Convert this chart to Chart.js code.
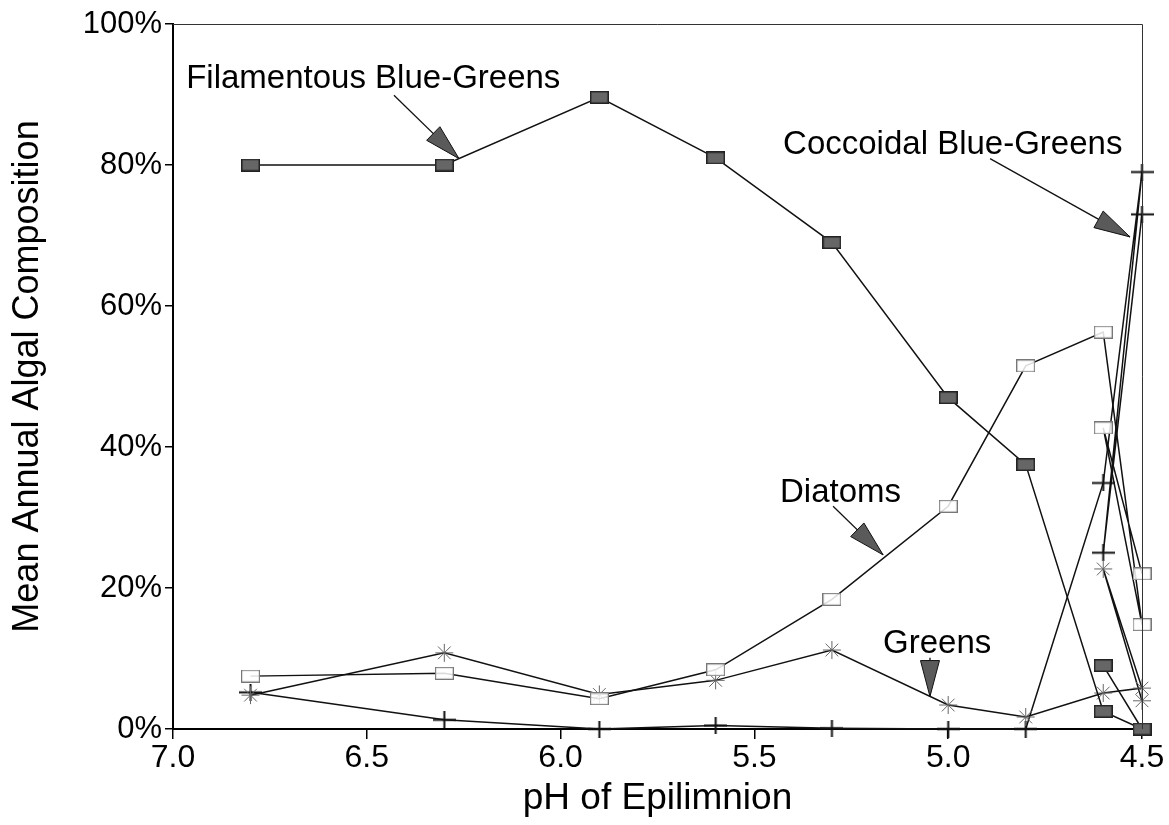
<!DOCTYPE html>
<html>
<head>
<meta charset="utf-8">
<script src="https://cdn.jsdelivr.net/npm/chart.js@4.4.1/dist/chart.umd.min.js"></script>
<style>
  html, body { margin: 0; padding: 0; background: #ffffff; }
  #wrap { width: 1169px; height: 825px; }
</style>
</head>
<body>
<div id="wrap"><canvas id="chart" width="1169" height="825"></canvas></div>
<script>
// pH of each lake's epilimnion, in plotting order
const phValues = [6.8, 6.3, 5.9, 5.6, 5.3, 5.0, 4.8, 4.6, 4.5, 4.6, 4.5];

// mean annual share of each algal group (%)
const filamentous = [80.0, 80.0, 89.6, 81.0, 69.0, 47.0, 37.5, 2.5, 0.0, 9.0, 0.0];
const diatoms     = [7.5, 7.9, 4.3, 8.4, 18.4, 31.6, 51.5, 56.3, 14.8, 42.7, 22.0];
const greens      = [4.8, 10.8, 4.9, 6.9, 11.2, 3.4, 1.7, 5.1, 5.8, 22.7, 4.0];
const coccoidal   = [5.2, 1.3, 0.0, 0.5, 0.1, 0.0, 0.0, 34.9, 79.0, 25.0, 73.0];

const seriesNames = ['Filamentous Blue-Greens', 'Diatoms', 'Greens', 'Coccoidal Blue-Greens'];

// axis ticks
const xTicks = [7.0, 6.5, 6.0, 5.5, 5.0, 4.5];
const yTicks = [0, 20, 40, 60, 80, 100];

// callout labels: text anchor, arrow start and arrow tip, in (pH, %) units
const calloutText  = ['Filamentous Blue-Greens', 'Coccoidal Blue-Greens', 'Diatoms', 'Greens'];
const calloutAt    = [[6.966, 90.9], [5.426, 81.6], [5.434, 32.2], [5.168, 10.8]];
const calloutFrom  = [[6.430, 89.9], [4.892, 80.9], [5.297, 31.6], [5.047, 10.1]];
const calloutTip   = [[6.262, 80.9], [4.531, 69.8], [5.168, 24.7], [5.047, 4.6]];

const FONT = "'Liberation Sans', Arial, Helvetica, sans-serif";
const INK = '#111111';

function toPoints(values) {
  return phValues.map((ph, i) => ({ x: ph, y: values[i] }));
}

// marker bitmaps
function marker(w, h, paint) {
  const c = document.createElement('canvas');
  c.width = w; c.height = h;
  paint(c.getContext('2d'), w, h);
  return c;
}
const filledBox = marker(19, 13, (g, w, h) => {
  g.fillStyle = '#666666';
  g.fillRect(0, 0, w, h);
  g.strokeStyle = '#222';
  g.lineWidth = 1.5;
  g.strokeRect(0.75, 0.75, w - 1.5, h - 1.5);
});
const openBox = marker(19, 13, (g, w, h) => {
  g.fillStyle = 'rgba(255,255,255,0.85)';
  g.fillRect(0, 0, w, h);
  g.strokeStyle = '#777';
  g.lineWidth = 1.2;
  g.strokeRect(0.6, 0.6, w - 1.2, h - 1.2);
});
const plusMark = marker(23, 17, (g, w, h) => {
  g.strokeStyle = INK;
  g.lineWidth = 2;
  g.beginPath();
  g.moveTo(0, h / 2); g.lineTo(w, h / 2);
  g.moveTo(w / 2, 0); g.lineTo(w / 2, h);
  g.stroke();
});

function lineSet(label, values, style, extra) {
  return Object.assign({
    label,
    data: toPoints(values),
    borderColor: INK,
    borderWidth: 1.5,
    tension: 0,
    fill: false,
    clip: false,
    pointStyle: style,
    pointRadius: 9,
    pointBackgroundColor: '#ffffff',
    pointBorderColor: '#555',
    pointBorderWidth: 1
  }, extra || {});
}

const frameAndCallouts = {
  id: 'frameAndCallouts',
  afterDatasetsDraw(chart) {
    const { ctx, chartArea: a, scales } = chart;
    const xs = scales.x, ys = scales.y;
    ctx.save();
    // top and right edges of the plot frame
    ctx.strokeStyle = '#333';
    ctx.lineWidth = 1;
    ctx.beginPath();
    ctx.moveTo(a.left, a.top + 0.5);
    ctx.lineTo(a.right + 0.5, a.top + 0.5);
    ctx.lineTo(a.right + 0.5, a.bottom);
    ctx.stroke();

    // callouts
    ctx.font = '33px ' + FONT;
    ctx.fillStyle = '#000';
    ctx.textBaseline = 'alphabetic';
    ctx.textAlign = 'left';
    calloutText.forEach((txt, i) => {
      ctx.fillText(txt, xs.getPixelForValue(calloutAt[i][0]), ys.getPixelForValue(calloutAt[i][1]));
      const fx = xs.getPixelForValue(calloutFrom[i][0]), fy = ys.getPixelForValue(calloutFrom[i][1]);
      const tx = xs.getPixelForValue(calloutTip[i][0]),  ty = ys.getPixelForValue(calloutTip[i][1]);
      const dx = tx - fx, dy = ty - fy, len = Math.hypot(dx, dy);
      const ux = dx / len, uy = dy / len;
      const head = Math.min(36, len), half = 9.5;
      const bx = tx - ux * head, by = ty - uy * head;
      ctx.strokeStyle = INK;
      ctx.lineWidth = 1.3;
      ctx.beginPath();
      ctx.moveTo(fx, fy);
      ctx.lineTo(tx, ty);
      ctx.stroke();
      ctx.beginPath();
      ctx.moveTo(tx, ty);
      ctx.lineTo(bx - uy * half, by + ux * half);
      ctx.lineTo(bx + uy * half, by - ux * half);
      ctx.closePath();
      ctx.fillStyle = '#5a5a5a';
      ctx.fill();
      ctx.lineWidth = 1;
      ctx.stroke();
      ctx.fillStyle = '#000';
    });
    ctx.restore();
  }
};

new Chart(document.getElementById('chart'), {
  type: 'line',
  data: {
    datasets: [
      lineSet(seriesNames[0], filamentous, filledBox),
      lineSet(seriesNames[1], diatoms, openBox),
      lineSet(seriesNames[2], greens, 'star', { pointRadius: 9, pointBorderColor: '#666', pointBorderWidth: 1 }),
      lineSet(seriesNames[3], coccoidal, plusMark)
    ]
  },
  options: {
    responsive: false,
    animation: false,
    devicePixelRatio: 1,
    layout: { padding: { top: 24, right: 27, left: 0, bottom: 0 } },
    plugins: { legend: { display: false }, tooltip: { enabled: false } },
    scales: {
      x: {
        type: 'linear',
        reverse: true,
        min: 4.5,
        max: 7.0,
        afterFit(s) { s.height = 96; },
        afterBuildTicks(s) { s.ticks = xTicks.map(v => ({ value: v })); },
        ticks: {
          color: '#000',
          font: { family: FONT, size: 32 },
          padding: 0,
          maxRotation: 0,
          callback: v => Number(v).toFixed(1)
        },
        grid: { drawOnChartArea: false, drawTicks: true, tickLength: 10, color: '#000', lineWidth: 1.5 },
        border: { display: true, color: '#000', width: 2 },
        title: {
          display: true,
          text: 'pH of Epilimnion',
          color: '#000',
          font: { family: FONT, size: 37 },
          padding: { top: 0, bottom: 4 }
        }
      },
      y: {
        min: 0,
        max: 100,
        afterFit(s) { s.width = 173; },
        afterBuildTicks(s) { s.ticks = yTicks.map(v => ({ value: v })); },
        ticks: {
          color: '#000',
          font: { family: FONT, size: 31 },
          padding: 3,
          callback: v => v + '%'
        },
        grid: { drawOnChartArea: false, drawTicks: true, tickLength: 8, color: '#000', lineWidth: 1.5 },
        border: { display: true, color: '#000', width: 2 },
        title: {
          display: true,
          text: 'Mean Annual Algal Composition',
          color: '#000',
          font: { family: FONT, size: 36 },
          padding: { top: 6, bottom: 0 }
        }
      }
    }
  },
  plugins: [frameAndCallouts]
});
</script>
</body>
</html>
